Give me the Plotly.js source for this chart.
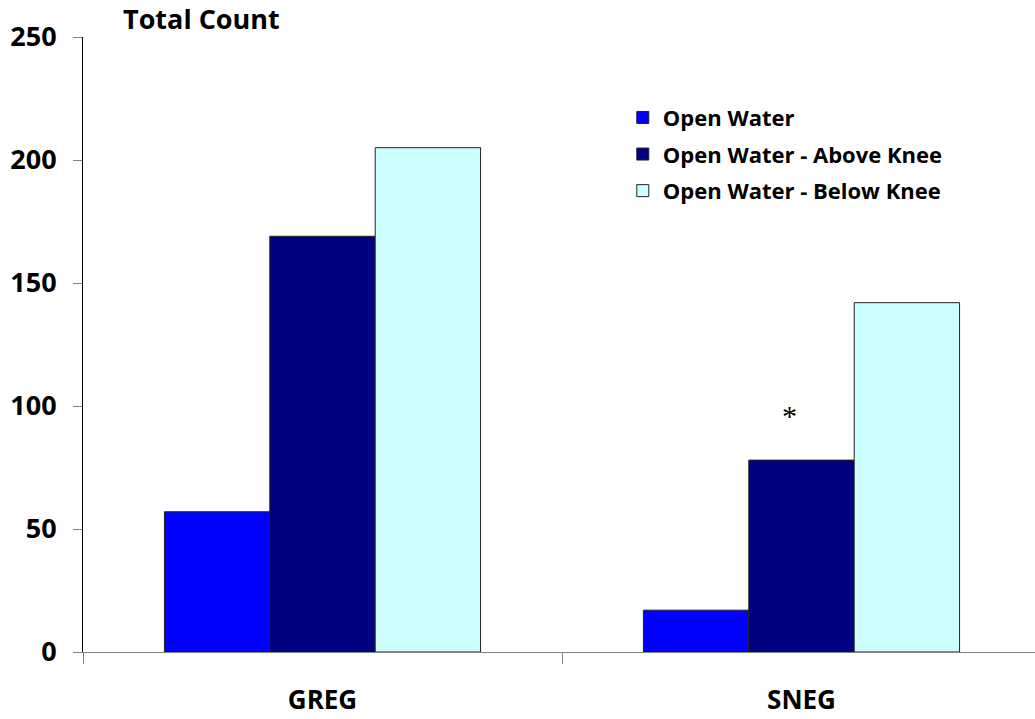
<!DOCTYPE html>
<html>
<head>
<meta charset="utf-8">
<script src="https://cdn.plot.ly/plotly-3.0.1.min.js"></script>
<style>html,body{margin:0;padding:0;background:#fff;}#chart{width:1035px;height:719px;}</style>
</head>
<body>
<div id="chart"></div>
<script>
const categories = ['GREG', 'SNEG'];
const seriesNames = ['Open Water', 'Open Water - Above Knee', 'Open Water - Below Knee'];
const openWater = [57, 17];
const aboveKnee = [169, 78];
const belowKnee = [205, 142];
const seriesColors = ['#0000FF', '#000080', '#CCFFFF'];
const yTickVals = [0, 50, 100, 150, 200, 250];
const markText = '*';
const markCategory = 'SNEG';
const markValue = 96;

const values = [openWater, aboveKnee, belowKnee];
const font = '"Open Sans", Lato, "Liberation Sans", sans-serif';

const traces = values.map((v, i) => ({
  type: 'bar',
  x: categories,
  y: v,
  name: seriesNames[i],
  legendgroup: 'g' + i,
  marker: {color: seriesColors[i], line: {color: '#222222', width: 1}},
  hoverinfo: 'x+y+name'
}));

const layout = {
  width: 1035,
  height: 719,
  margin: {l: 83, r: 0, t: 37, b: 67, pad: 0},
  paper_bgcolor: '#ffffff',
  plot_bgcolor: '#ffffff',
  barmode: 'group',
  bargap: 0.34,
  bargroupgap: 0,
  showlegend: true,
  title: {
    text: 'Total Count',
    x: 123 / 1035, xanchor: 'left', xref: 'container',
    y: 1 - 20 / 719, yanchor: 'middle', yref: 'container',
    font: {family: font, size: 27, weight: 'bold', color: '#000'}
  },
  legend: {
    x: 0.567, xanchor: 'left', y: 0.903, yanchor: 'top',
    bgcolor: 'rgba(0,0,0,0)',
    tracegroupgap: 5,
    font: {family: font, size: 22, weight: 'bold', color: '#000'}
  },
  xaxis: {
    type: 'category',
    range: [-0.5, -0.5 + 952 / 479],
    showline: true, linecolor: '#808080', linewidth: 1,
    ticks: 'outside', tickson: 'boundaries', ticklen: 11, tickcolor: '#808080', tickwidth: 1,
    ticklabelstandoff: 25,
    showgrid: false, zeroline: false,
    tickfont: {family: font, size: 26, weight: 'bold', color: '#000'}
  },
  yaxis: {
    range: [0, 250],
    tickvals: yTickVals,
    showline: true, linecolor: '#000000', linewidth: 1,
    ticks: 'outside', ticklen: 9, tickcolor: '#808080', tickwidth: 1,
    ticklabelstandoff: 11,
    showgrid: false, zeroline: false,
    tickfont: {family: font, size: 27, weight: 'bold', color: '#000'}
  },
  annotations: [{
    x: markCategory, y: markValue, xref: 'x', yref: 'y',
    text: markText, showarrow: false, xshift: -12,
    font: {family: '"Liberation Serif", "DejaVu Serif", serif', size: 30, color: '#000'}
  }]
};

Plotly.newPlot('chart', traces, layout, {displayModeBar: false, staticPlot: true});
</script>
</body>
</html>
